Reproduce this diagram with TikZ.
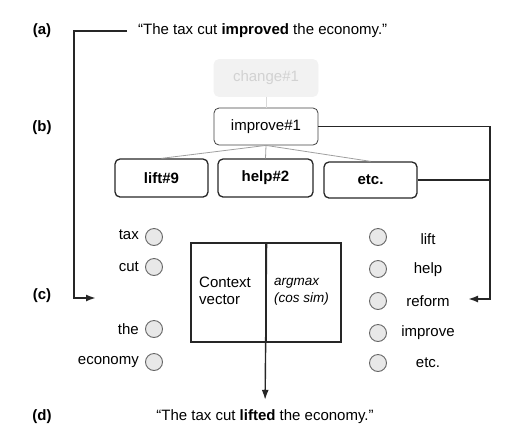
\documentclass[tikz,border=0pt]{standalone}
\usepackage{fontspec}
\setmainfont{Liberation Sans}
\usetikzlibrary{arrows.meta}
\begin{document}
\begin{tikzpicture}[x=1pt,y=-1pt,font=\fontsize{15}{17}\selectfont,
  lbl/.style={font=\bfseries\fontsize{15}{17}\selectfont},
  conn/.style={line width=1.8pt,draw=black!85},
  arr/.style={-{Latex[length=10pt,width=7pt]}},
  treeline/.style={draw=gray!75,line width=0.8pt},
  sensebox/.style={rounded corners=5pt,draw=black!75,line width=0.8pt,minimum width=104pt,minimum height=37pt,inner sep=0pt},
  subbox/.style={rounded corners=5pt,draw=black!85,line width=1.3pt,minimum height=38pt,inner sep=0pt,font=\bfseries\fontsize{15}{17}\selectfont},
  wordc/.style={circle,draw=black!60,fill=gray!18,line width=0.9pt,minimum size=17pt,inner sep=0pt},
  wordl/.style={anchor=east,inner sep=0pt},
  wordr/.style={inner sep=0pt},
  half/.style={draw=black!85,line width=1.2pt,minimum width=75pt,minimum height=99pt,inner sep=0pt}]
\useasboundingbox (0,0) rectangle (524,445);
% labels
\node[lbl] (la) at (42,31) {(a)};
\node[lbl] (lb) at (42,128) {(b)};
\node[lbl] (lc) at (42,296) {(c)};
\node[lbl] (ld) at (42,417) {(d)};
% sentences
\node[anchor=west,inner sep=0pt] (qa) at (138,31) {“The tax cut \textbf{improved} the economy.”};
\node[inner sep=0pt] (qd) at (265,417) {“The tax cut \textbf{lifted} the economy.”};
% sense boxes
\node[sensebox,draw=gray!10,fill=gray!10,text=gray!35] (chg) at (266,78) {change\#1};
\node[sensebox] (imp) at (266,126.5) {improve\#1};
\node[subbox,minimum width=93pt] (lift) at (161.5,178) {lift\#9};
\node[subbox,minimum width=95pt] (help) at (265.5,178) {help\#2};
\node[subbox,minimum width=93pt,minimum height=36pt] (etc) at (370.5,180) {etc.};
\draw[treeline,draw=gray!30] (chg.south) -- (imp.north);
\draw[treeline] (imp.south) -- (lift.north);
\draw[treeline] (imp.south) -- (help.north);
\draw[treeline] (imp.south) -- (etc.north);
% context box
\node[half] (cv) at (228.5,292.5) {};
\node[half] (am) at (303.5,292.5) {};
\node[anchor=north west,align=left,inner sep=0pt] (cvt) at (199,277) {Context\\vector};
\node[anchor=north west,align=left,inner sep=0pt,font=\itshape\fontsize{13.5}{17}\selectfont] (amt) at (274,278) {argmax\\(cos sim)};
% left words
\node[wordl] (wtax) at (139,235) {tax};
\node[wordc] (ctax) at (154,237) {};
\node[wordl] (wcut) at (139,267) {cut};
\node[wordc] (ccut) at (154,267) {};
\node[wordl] (wthe) at (139,329) {the};
\node[wordc] (cthe) at (154,329) {};
\node[wordl] (weco) at (139,362) {economy};
\node[wordc] (ceco) at (154,362) {};
% right words
\node[wordc] (clift) at (378,237) {};
\node[wordr] (rlift) at (428,239) {lift};
\node[wordc] (chelp) at (378,269) {};
\node[wordr] (rhelp) at (428,270) {help};
\node[wordc] (cref) at (378,301) {};
\node[wordr] (rref) at (428,301) {reform};
\node[wordc] (cimp) at (378,333) {};
\node[wordr] (rimp) at (428,333) {improve};
\node[wordc] (cetc) at (378,363) {};
\node[wordr] (retc) at (428,363) {etc.};
% connectors
\coordinate (cin) at (96,298);
\coordinate (cout) at (468,299);
\coordinate (rj) at (490,180);
\draw[conn,arr] ([xshift=-11pt]qa.west) -| (74,298) -- (cin);
\draw[conn,arr] (imp.east) -| (490,299) -- (cout);
\draw[conn] (etc.east) -- (rj);
\draw[conn,line width=1.4pt,arr,shorten >=10pt] (cv.north east) -- (qd.north);
\end{tikzpicture}
\end{document}
